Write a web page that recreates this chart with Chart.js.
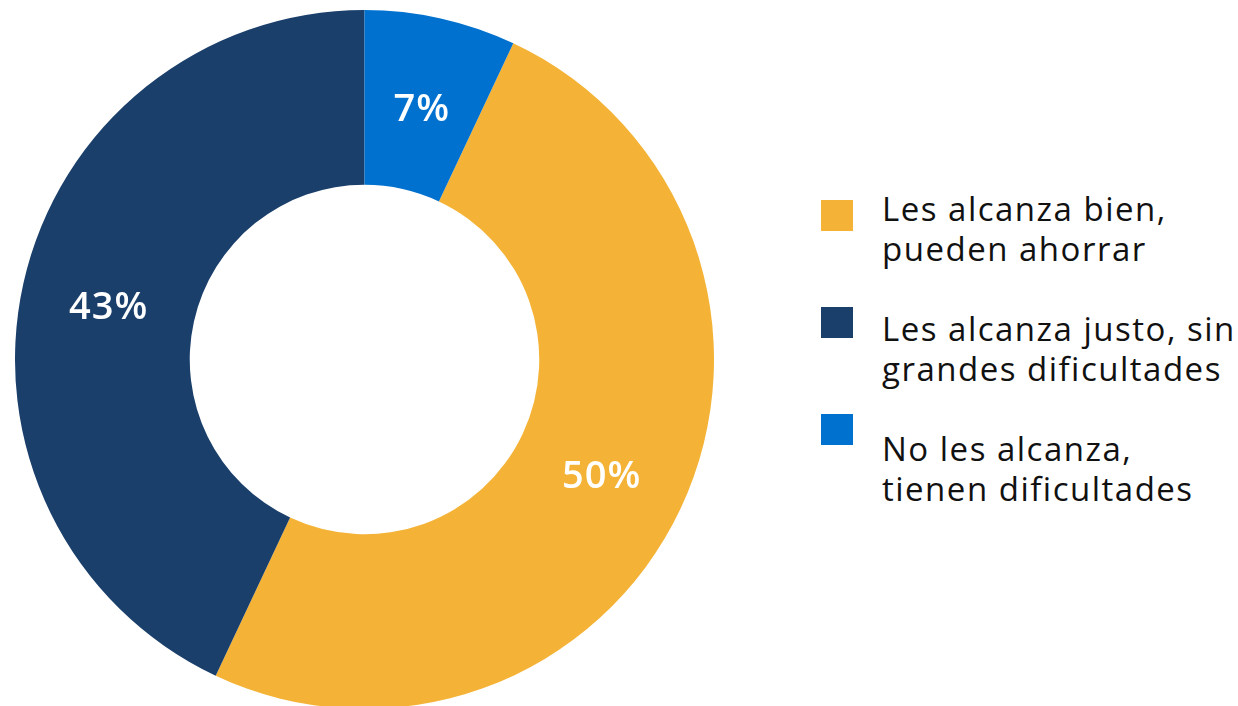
<!DOCTYPE html>
<html lang="es">
  <head>
    <meta charset="UTF-8" />
    <script src="https://cdn.jsdelivr.net/npm/chart.js@4.4.1/dist/chart.umd.min.js"></script>
    <title>Alcance del ingreso</title>
    <style>
      html, body { margin: 0; padding: 0; background: #fff; overflow: hidden; }
      body { width: 1238px; height: 706px; position: relative; font-family: "Open Sans", sans-serif; }
      #wrap { position: absolute; left: 15px; top: 10px; width: 699px; height: 699px; }
      #legend { position: absolute; left: 0; top: 0; }
      .item { position: absolute; left: 821px; }
      .box { position: absolute; left: 0; width: 32px; height: 31px; }
      .txt { position: absolute; left: 61px; white-space: nowrap; font-size: 33px; line-height: 40px; color: #111; letter-spacing: 1.5px; }
    </style>
  </head>
  <body>
    <div id="wrap"><canvas id="chart"></canvas></div>
    <div id="legend"></div>
    <script>
      const labels = [
        ["Les alcanza bien,", "pueden ahorrar"],
        ["Les alcanza justo, sin", "grandes dificultades"],
        ["No les alcanza,", "tienen dificultades"],
      ];
      const values = [50, 43, 7];
      const colors = ["#F4B336", "#1B3F6B", "#0071CF"];

      // legend placement (box top, text top) per item
      const legendPos = [
        [200, 189],
        [307, 309],
        [414, 429],
      ];

      const sliceLabels = {
        id: "sliceLabels",
        afterDatasetsDraw(chart) {
          const ctx = chart.ctx;
          const meta = chart.getDatasetMeta(0);
          ctx.save();
          ctx.fillStyle = "#fff";
          ctx.font = "600 38px 'Open Sans', sans-serif";
          ctx.letterSpacing = "1px";
          ctx.textAlign = "center";
          ctx.textBaseline = "middle";
          meta.data.forEach((arc, i) => {
            const p = arc.tooltipPosition();
            ctx.fillText(values[i] + "%", p.x, p.y + 6);
          });
          ctx.restore();
        },
      };

      const total = values.reduce((a, b) => a + b, 0);

      const chart = new Chart(document.getElementById("chart"), {
        type: "doughnut",
        data: {
          labels: labels.map((l) => l.join(" ")),
          datasets: [
            {
              data: values,
              backgroundColor: colors,
              borderWidth: 0,
            },
          ],
        },
        options: {
          responsive: true,
          maintainAspectRatio: false,
          animation: false,
          cutout: "50%",
          rotation: (values[2] / total) * 360,
          layout: { padding: 0 },
          plugins: {
            legend: { display: false },
            tooltip: { enabled: false },
          },
        },
        plugins: [sliceLabels],
      });

      const legend = document.getElementById("legend");
      labels.forEach((lines, i) => {
        const item = document.createElement("div");
        item.className = "item";
        const box = document.createElement("div");
        box.className = "box";
        box.style.background = colors[i];
        box.style.top = legendPos[i][0] + "px";
        const txt = document.createElement("div");
        txt.className = "txt";
        txt.style.top = legendPos[i][1] + "px";
        txt.innerHTML = lines.join("<br>");
        item.appendChild(box);
        item.appendChild(txt);
        legend.appendChild(item);
      });
    </script>
  </body>
</html>
